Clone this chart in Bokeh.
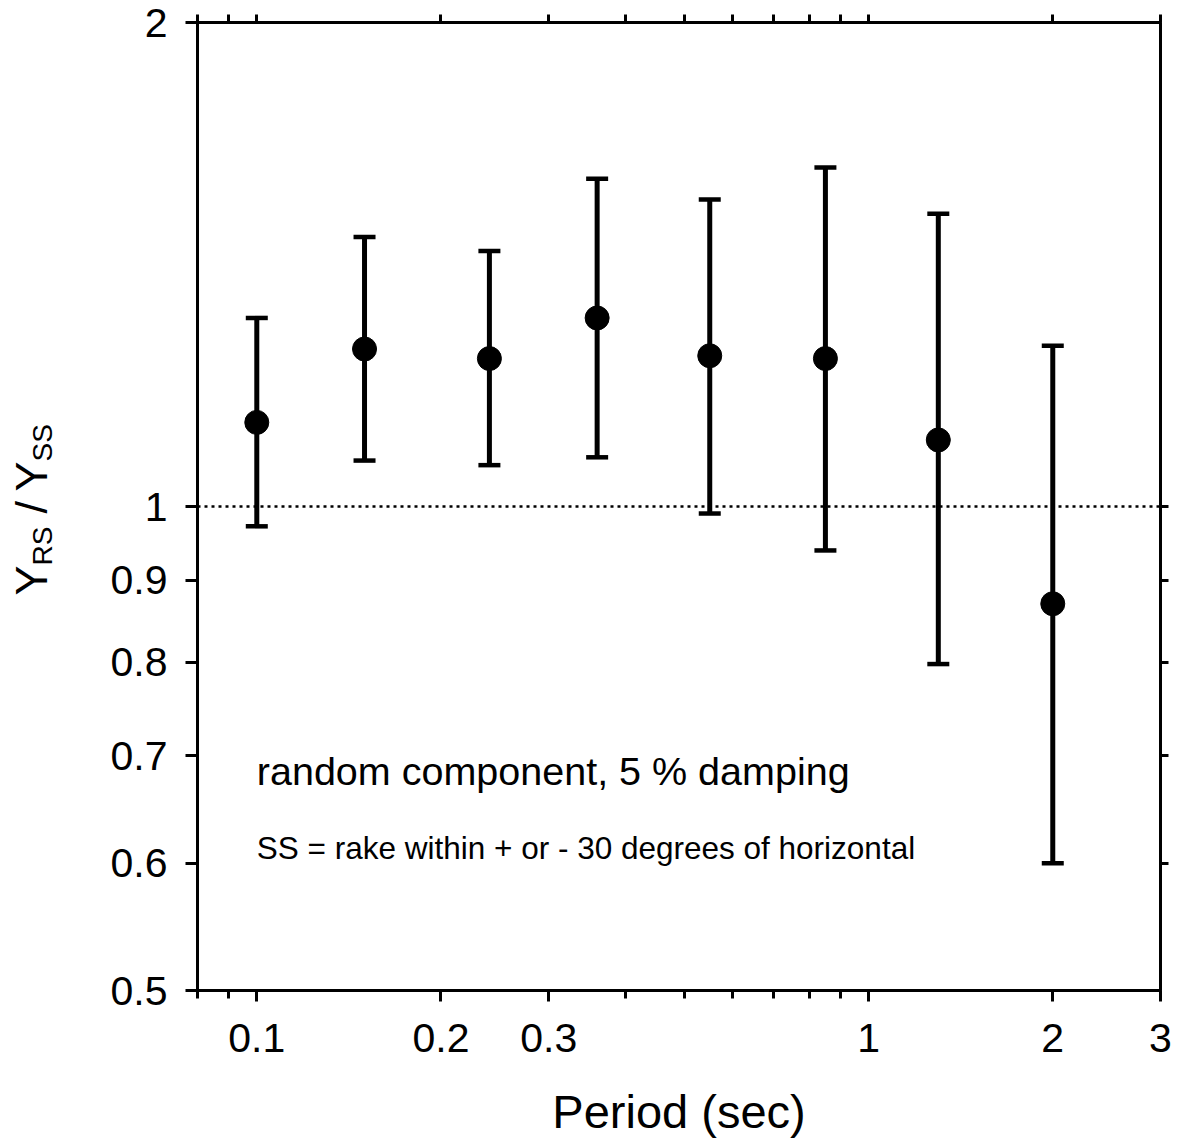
import math
from bokeh.plotting import figure
from bokeh.layouts import row
from bokeh.models import (ColumnDataSource, Whisker, TeeHead, Span, Label, LogAxis,
                          FixedTicker, NumeralTickFormatter, Range1d)
from bokeh.embed import file_html
from bokeh.resources import INLINE

# ---- data ----
period = [0.1, 0.15, 0.24, 0.36, 0.55, 0.85, 1.3, 2.0]
ratio = [1.128, 1.253, 1.236, 1.310, 1.241, 1.236, 1.100, 0.870]
upper = [1.310, 1.471, 1.442, 1.599, 1.552, 1.625, 1.521, 1.259]
lower = [0.972, 1.068, 1.061, 1.073, 0.990, 0.939, 0.798, 0.600]

x_major_ticks = [0.1, 0.2, 0.3, 1, 2, 3]
x_minor_ticks = [0.08, 0.09, 0.4, 0.5, 0.6, 0.7, 0.8, 0.9]
y_major_ticks = [0.5, 0.6, 0.7, 0.8, 0.9, 1, 2]
y_right_ticks = [0.6, 0.7, 0.8, 0.9, 1]
reference_level = 1.0

x_label = "Period (sec)"
note_main = "random component, 5 % damping"
note_sub = "SS = rake within + or - 30 degrees of horizontal"
y_label_pieces = ["Y", "RS", "/", "Y", "SS"]

FONT = "Liberation Sans"
W, H = 1178, 1147
LW = 80                              # width of the y-label strip
FL, FR, FT, FB = 197, 1160, 22, 990  # frame edges in page pixels
XR = (0.08, 3.0)
YR = (0.5, 2.0)


def py_to_y(py):
    return 10 ** (math.log10(YR[1]) - (py - FT) / (FB - FT) * math.log10(YR[1] / YR[0]))


p = figure(width=W - LW, height=H, x_axis_type="log", y_axis_type="log",
           x_range=Range1d(*XR), y_range=Range1d(*YR),
           output_backend="svg", toolbar_location=None,
           min_border_left=FL - LW, min_border_right=W - FR,
           min_border_top=FT, min_border_bottom=H - FB)
p.xgrid.visible = False
p.ygrid.visible = False
p.outline_line_color = "black"
p.outline_line_width = 3
p.background_fill_color = "white"
p.border_fill_color = "white"


def style_axis(ax):
    ax.axis_line_width = 3
    ax.axis_line_color = "black"
    ax.major_tick_line_width = 3
    ax.minor_tick_line_width = 3
    ax.major_tick_line_color = "black"
    ax.minor_tick_line_color = "black"
    ax.major_tick_in = 0
    ax.minor_tick_in = 0
    ax.major_label_text_font = FONT
    ax.major_label_text_color = "black"
    ax.major_label_text_font_size = "41px"


# bottom axis
xa = p.xaxis[0]
style_axis(xa)
xa.ticker = FixedTicker(ticks=x_major_ticks, minor_ticks=x_minor_ticks)
xa.formatter = NumeralTickFormatter(format="0.[0]")
xa.major_tick_out = 11
xa.minor_tick_out = 8
xa.major_label_standoff = 22
xa.axis_label = x_label
xa.axis_label_text_font = FONT
xa.axis_label_text_font_style = "normal"
xa.axis_label_text_font_size = "47px"
xa.axis_label_text_color = "black"
xa.axis_label_standoff = 30

# left axis
ya = p.yaxis[0]
style_axis(ya)
ya.ticker = FixedTicker(ticks=y_major_ticks, minor_ticks=[])
ya.formatter = NumeralTickFormatter(format="0.[0]")
ya.major_tick_out = 12
ya.minor_tick_out = 0
ya.major_label_standoff = 18

# top axis (ticks only)
ta = LogAxis(ticker=FixedTicker(ticks=[], minor_ticks=x_major_ticks + x_minor_ticks))
style_axis(ta)
ta.minor_tick_out = 8
ta.major_tick_out = 0
p.add_layout(ta, "above")

# right axis (ticks only)
ra = LogAxis(ticker=FixedTicker(ticks=[], minor_ticks=y_right_ticks))
style_axis(ra)
ra.minor_tick_out = 8
ra.major_tick_out = 0
p.add_layout(ra, "right")

# reference line
p.add_layout(Span(location=reference_level, dimension="width", line_color="black",
                  line_width=2.5, line_dash="3 4"))

# error bars
src = ColumnDataSource(dict(period=period, ratio=ratio, upper=upper, lower=lower))
p.add_layout(Whisker(source=src, base="period", upper="upper", lower="lower",
                     dimension="height", line_width=5, line_color="black",
                     upper_head=TeeHead(size=22, line_width=4.5, line_color="black"),
                     lower_head=TeeHead(size=22, line_width=4.5, line_color="black")))

p.scatter("period", "ratio", source=src, size=24, fill_color="black", line_color="black")

# notes
p.add_layout(Label(x=0.1, y=py_to_y(770), text=note_main, text_font=FONT,
                   text_font_size="39.5px", text_color="black",
                   text_align="left", text_baseline="alphabetic"))
p.add_layout(Label(x=0.1, y=py_to_y(847), text=note_sub, text_font=FONT,
                   text_font_size="31.5px", text_color="black",
                   text_align="left", text_baseline="alphabetic"))

# y-axis label strip: Y_RS / Y_SS, rotated, composed from pieces.
lab = figure(width=LW, height=H, x_range=Range1d(0, LW), y_range=Range1d(H - FB, H - FT),
             output_backend="svg", toolbar_location=None,
             x_axis_location=None, y_axis_location=None,
             min_border_left=0, min_border_right=0,
             min_border_top=FT, min_border_bottom=H - FB)
lab.grid.visible = False
lab.outline_line_color = None
lab.background_fill_color = "white"
lab.border_fill_color = "white"

piece_pos = [(31, 595, "45px"), (42, 565, "28px"), (31, 513, "45px"),
             (31, 491, "45px"), (42, 461, "28px")]
for txt, (bx, by, fs) in zip(y_label_pieces, piece_pos):
    lab.add_layout(Label(x=bx, y=H - by, text=txt, text_font=FONT,
                         text_font_size=fs, text_color="black", angle=math.pi / 2,
                         text_align="left", text_baseline="alphabetic"))

layout = row(lab, p)
open("out.html", "w").write(file_html(layout, INLINE))
